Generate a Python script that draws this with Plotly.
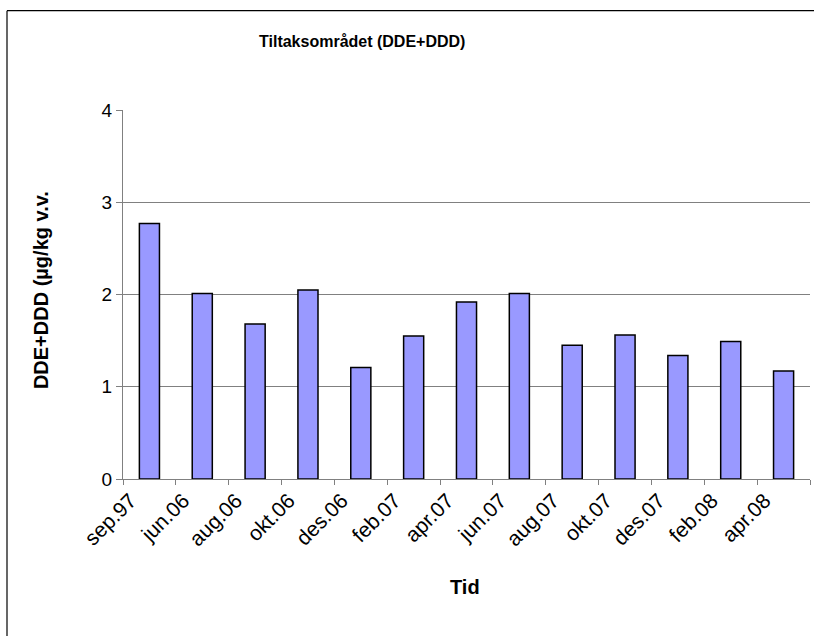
import plotly.graph_objects as go

categories = ["sep.97", "jun.06", "aug.06", "okt.06", "des.06", "feb.07", "apr.07",
              "jun.07", "aug.07", "okt.07", "des.07", "feb.08", "apr.08"]
values = [2.77, 2.01, 1.68, 2.05, 1.21, 1.55, 1.92, 2.01, 1.45, 1.56, 1.34, 1.49, 1.17]
y_ticks = [0, 1, 2, 3, 4]

W, H = 814, 636
L, R, T, B = 123, 810, 109.5, 479.3
pw, ph = R - L, B - T

def px_x(x):
    return (x - L) / pw

def px_y(y):
    return (B - y) / ph

fig = go.Figure()
fig.add_trace(go.Bar(
    x=categories, y=values,
    marker=dict(color="#9999FF", line=dict(color="#000000", width=1.5)),
    width=0.38,
))

fig.update_layout(
    width=W, height=H,
    margin=dict(l=L, r=W - R, t=T, b=H - B, pad=0),
    paper_bgcolor="white", plot_bgcolor="white",
    showlegend=False,
    font=dict(family="Arial, Liberation Sans, sans-serif", color="#000000"),
    xaxis=dict(
        type="category", tickangle=-45, tickfont=dict(size=21),
        ticklabelshift=-19,
        showgrid=False, showline=True, linecolor="#808080", linewidth=1,
        ticks="outside", tickson="boundaries", ticklen=5, tickcolor="#808080",
        zeroline=False,
    ),
    yaxis=dict(
        range=[0, 4], tickvals=y_ticks, tickfont=dict(size=19),
        showgrid=True, gridcolor="#808080", gridwidth=1,
        showline=True, linecolor="#808080", linewidth=1,
        ticks="outside", ticklen=6, tickcolor="#808080",
        zeroline=False,
    ),
    shapes=[
        dict(type="line", xref="paper", yref="paper",
             x0=px_x(7), x1=px_x(7), y0=px_y(700), y1=px_y(10),
             line=dict(color="#000000", width=1.2), layer="above"),
        dict(type="line", xref="paper", yref="paper",
             x0=px_x(7), x1=px_x(900), y0=px_y(10), y1=px_y(10),
             line=dict(color="#000000", width=1.2), layer="above"),
    ],
    annotations=[
        dict(text="<b>Tiltaksområdet (DDE+DDD)</b>", xref="paper", yref="paper",
             x=px_x(362), y=px_y(41), xanchor="center", yanchor="middle", showarrow=False,
             font=dict(size=16)),
        dict(text="<b>DDE+DDD (µg/kg v.v.</b>", xref="paper", yref="paper",
             x=px_x(41), y=px_y(290), xanchor="center", yanchor="middle", showarrow=False,
             textangle=-90, font=dict(size=20)),
        dict(text="<b>Tid</b>", xref="paper", yref="paper",
             x=px_x(465), y=px_y(588), xanchor="center", yanchor="middle", showarrow=False,
             font=dict(size=20)),
    ],
)

fig.write_html("out.html",
               config={"displayModeBar": False},
               post_script="document.body.style.margin='0';document.body.style.overflow='hidden';")
